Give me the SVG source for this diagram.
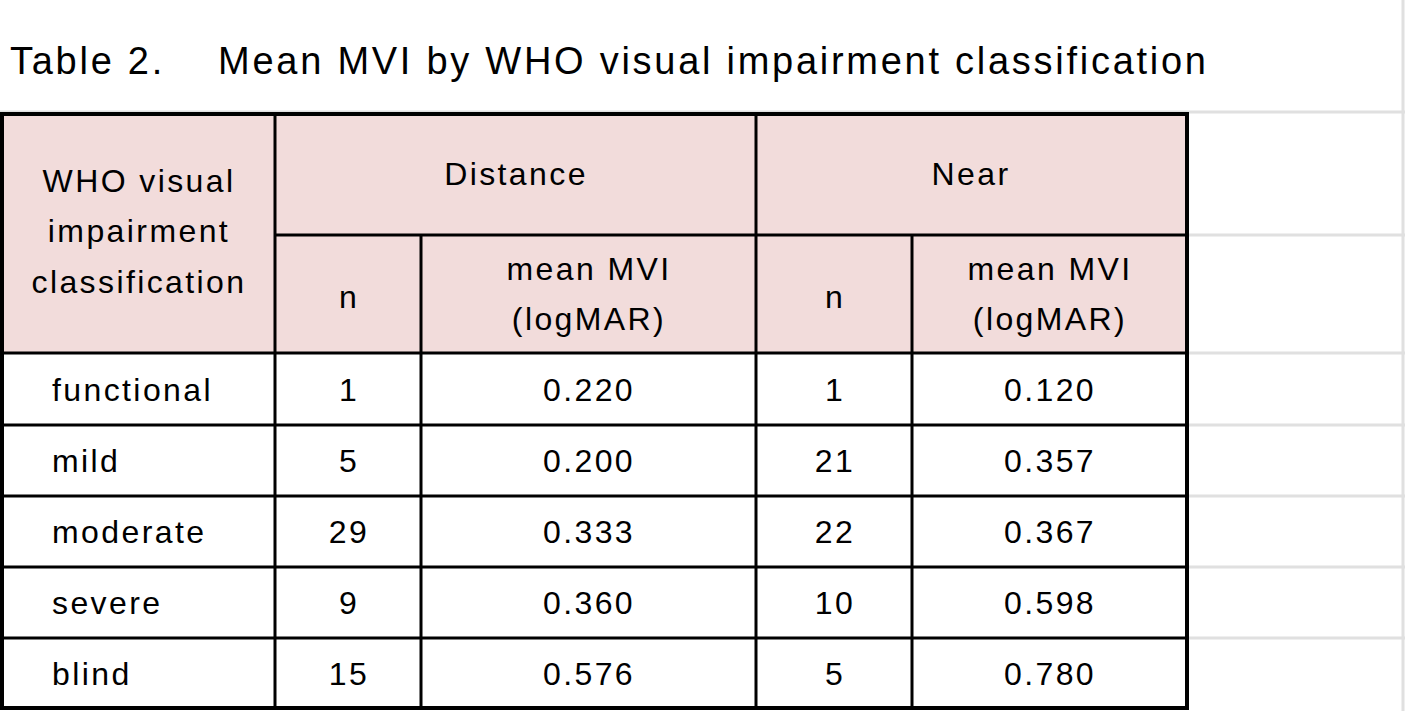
<svg xmlns="http://www.w3.org/2000/svg" width="1405" height="711" viewBox="0 0 1405 711">
<style>
text{font-family:"Liberation Sans",Arial,sans-serif;font-size:32px;letter-spacing:2.4px;fill:#000}
.c{text-anchor:middle}
.g{stroke:#e0e0e0;stroke-width:3}
.b{stroke:#000;stroke-width:3;fill:none}
.o{stroke:#000;stroke-width:4;fill:none}
</style>
<rect width="1405" height="711" fill="#fff"/>
<g id="grid">
<path class="g" d="M1187 112H1405M1187 235H1405M1187 353H1405M1187 425H1405M1187 496H1405M1187 567H1405M1187 638H1405M1403 0V711M0 112H1187"/>
</g>
<text id="title" x="10" y="74" style="font-size:38px;letter-spacing:0" textLength="1196" lengthAdjust="spacing" xml:space="preserve">Table 2.    Mean MVI by WHO visual impairment classification</text>
<g id="header">
<rect x="2" y="113" width="1185" height="240" fill="#f2dcdb"/>
</g>
<g id="lines">
<path class="b" d="M275 113V708M421 235V708M756 113V708M912 235V708M275 235H1187M2 353H1187M2 425H1187M2 496H1187M2 567H1187M2 638H1187"/>
<rect class="o" x="2" y="114" width="1185" height="594"/>
</g>
<g id="htext">
<text class="c" x="139" y="192">WHO visual</text>
<text class="c" x="139" y="242">impairment</text>
<text class="c" x="139" y="293">classification</text>
<text class="c" x="516" y="185">Distance</text>
<text class="c" x="971" y="185">Near</text>
<text class="c" x="349" y="308">n</text>
<text class="c" x="589" y="280">mean MVI</text>
<text class="c" x="589" y="330">(logMAR)</text>
<text class="c" x="835" y="308">n</text>
<text class="c" x="1050" y="280">mean MVI</text>
<text class="c" x="1050" y="330">(logMAR)</text>
</g>
<g id="rows">
<text x="52" y="401">functional</text><text class="c" x="349" y="401">1</text><text class="c" x="589" y="401">0.220</text><text class="c" x="835" y="401">1</text><text class="c" x="1050" y="401">0.120</text>
<text x="52" y="472">mild</text><text class="c" x="349" y="472">5</text><text class="c" x="589" y="472">0.200</text><text class="c" x="835" y="472">21</text><text class="c" x="1050" y="472">0.357</text>
<text x="52" y="543">moderate</text><text class="c" x="349" y="543">29</text><text class="c" x="589" y="543">0.333</text><text class="c" x="835" y="543">22</text><text class="c" x="1050" y="543">0.367</text>
<text x="52" y="614">severe</text><text class="c" x="349" y="614">9</text><text class="c" x="589" y="614">0.360</text><text class="c" x="835" y="614">10</text><text class="c" x="1050" y="614">0.598</text>
<text x="52" y="685">blind</text><text class="c" x="349" y="685">15</text><text class="c" x="589" y="685">0.576</text><text class="c" x="835" y="685">5</text><text class="c" x="1050" y="685">0.780</text>
</g>
</svg>
